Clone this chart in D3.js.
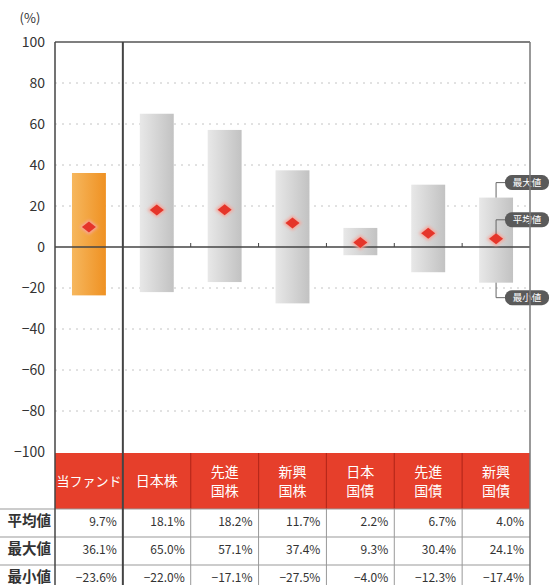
<!DOCTYPE html>
<html>
<head>
<meta charset="utf-8">
<script src="https://cdn.jsdelivr.net/npm/d3@7"></script>
<style>
  body { margin: 0; background: #fff; }
  svg { display: block; font-family: "Noto Sans CJK JP", "Noto Sans", sans-serif; }
</style>
</head>
<body>
<svg id="chart"></svg>
<script>
const WIDTH = 552;
const HEIGHT = 585;

// Data
const categories = ['当ファンド', '日本株', '先進国株', '新興国株', '日本国債', '先進国債', '新興国債'];
const headerLines = [['当ファンド'], ['日本株'], ['先進', '国株'], ['新興', '国株'], ['日本', '国債'], ['先進', '国債'], ['新興', '国債']];
const avgValues = [9.7, 18.1, 18.2, 11.7, 2.2, 6.7, 4.0];
const maxValues = [36.1, 65.0, 57.1, 37.4, 9.3, 30.4, 24.1];
const minValues = [-23.6, -22.0, -17.1, -27.5, -4.0, -12.3, -17.4];
const yTicks = [100, 80, 60, 40, 20, 0, -20, -40, -60, -80, -100];
const rowLabels = ['平均値', '最大値', '最小値'];
const calloutLabels = ['最大値', '平均値', '最小値'];

const plotLeft = 55, plotRight = 530, plotTop = 42, plotBottom = 452;
const headerTop = 453, headerBottom = 509, rowH = 28;

const svg = d3.select('#chart').attr('width', WIDTH).attr('height', HEIGHT);

const defs = svg.append('defs');
const grayGrad = defs.append('linearGradient').attr('id', 'grayGrad');
grayGrad.append('stop').attr('offset', '0%').attr('stop-color', '#e8e8e8');
grayGrad.append('stop').attr('offset', '100%').attr('stop-color', '#c2c2c2');
const orangeGrad = defs.append('linearGradient').attr('id', 'orangeGrad');
orangeGrad.append('stop').attr('offset', '0%').attr('stop-color', '#f6b75e');
orangeGrad.append('stop').attr('offset', '100%').attr('stop-color', '#ef9122');
const glow = defs.append('filter').attr('id', 'glow').attr('x', '-50%').attr('y', '-50%').attr('width', '200%').attr('height', '200%');
glow.append('feGaussianBlur').attr('stdDeviation', 1.2);

const x = d3.scaleBand().domain(categories).range([plotLeft, plotRight]).padding(0);
const y = d3.scaleLinear().domain([-100, 100]).range([plotBottom, plotTop]);
const barW = x.bandwidth() * 0.5;

// Grid lines
svg.append('g')
    .selectAll('line')
    .data(yTicks.filter(t => t !== 0 && Math.abs(t) !== 100))
    .enter().append('line')
        .attr('x1', plotLeft).attr('x2', plotRight)
        .attr('y1', d => y(d)).attr('y2', d => y(d))
        .attr('stroke', '#c4c4c4')
        .attr('stroke-width', 1)
        .attr('stroke-dasharray', '2,5');

// Y axis labels
const yAxis = svg.append('g')
    .attr('transform', `translate(${plotLeft}, 0)`)
    .call(d3.axisLeft(y).tickValues(yTicks).tickSize(0).tickPadding(10).tickFormat(d3.format('d')));
yAxis.select('.domain').remove();
yAxis.selectAll('text')
    .attr('font-size', 14)
    .attr('fill', '#333')
    .attr('font-family', '"Noto Sans CJK JP", sans-serif');

svg.append('text')
    .attr('x', 30).attr('y', 23)
    .attr('text-anchor', 'middle')
    .attr('font-size', 13)
    .attr('fill', '#333')
    .text('(%)');

// Bars
svg.append('g')
    .selectAll('rect')
    .data(categories)
    .enter().append('rect')
        .attr('x', d => x(d) + (x.bandwidth() - barW) / 2)
        .attr('width', barW)
        .attr('y', (d, i) => y(maxValues[i]))
        .attr('height', (d, i) => y(minValues[i]) - y(maxValues[i]))
        .attr('fill', (d, i) => i === 0 ? 'url(#orangeGrad)' : 'url(#grayGrad)');

// Zero line and small ticks
svg.append('line')
    .attr('x1', plotLeft).attr('x2', plotRight)
    .attr('y1', y(0)).attr('y2', y(0))
    .attr('stroke', '#444').attr('stroke-width', 1.3);
svg.append('g')
    .selectAll('line')
    .data(categories.slice(2))
    .enter().append('line')
        .attr('x1', d => x(d)).attr('x2', d => x(d))
        .attr('y1', y(0)).attr('y2', y(0) - 4)
        .attr('stroke', '#444').attr('stroke-width', 1);

// Diamonds (average)
const diamond = 'M0,-5.5 L7,0 L0,5.5 L-7,0 Z';
const dg = svg.append('g');
dg.selectAll('path.glow')
    .data(categories)
    .enter().append('path')
        .attr('class', 'glow')
        .attr('d', diamond)
        .attr('transform', (d, i) => `translate(${x(d) + x.bandwidth() / 2}, ${y(avgValues[i])}) scale(1.35)`)
        .attr('fill', '#f7a59a')
        .attr('filter', 'url(#glow)');
dg.selectAll('path.dot')
    .data(categories)
    .enter().append('path')
        .attr('class', 'dot')
        .attr('d', diamond)
        .attr('transform', (d, i) => `translate(${x(d) + x.bandwidth() / 2}, ${y(avgValues[i])})`)
        .attr('fill', '#e5352a');

// Callouts on the last bar
const last = categories.length - 1;
const cx = x(categories[last]) + x.bandwidth() / 2;
const callouts = [
    { label: calloutLabels[0], from: y(maxValues[last]), to: y(maxValues[last]) - 15 },
    { label: calloutLabels[1], from: y(avgValues[last]) - 5, to: y(avgValues[last]) - 19 },
    { label: calloutLabels[2], from: y(minValues[last]), to: y(minValues[last]) + 15 },
];
const cg = svg.append('g');
cg.selectAll('path')
    .data(callouts)
    .enter().append('path')
        .attr('d', d => `M${cx},${d.from} L${cx},${d.to} L${plotRight + 4},${d.to}`)
        .attr('fill', 'none')
        .attr('stroke', '#666')
        .attr('stroke-width', 1);

// Table: header band
svg.append('rect')
    .attr('x', plotLeft).attr('y', headerTop)
    .attr('width', plotRight - plotLeft).attr('height', headerBottom - headerTop)
    .attr('fill', '#e63f2b');
svg.append('g')
    .selectAll('line')
    .data(categories.slice(2))
    .enter().append('line')
        .attr('x1', d => x(d)).attr('x2', d => x(d))
        .attr('y1', headerTop).attr('y2', headerBottom)
        .attr('stroke', '#b8281a').attr('stroke-width', 1.2);

const hg = svg.append('g');
headerLines.forEach((lines, i) => {
    const t = hg.append('text')
        .attr('x', x(categories[i]) + x.bandwidth() / 2)
        .attr('text-anchor', 'middle')
        .attr('fill', '#fff')
        .attr('font-size', lines[0].length > 4 ? 13 : 14);
    const mid = (headerTop + headerBottom) / 2;
    lines.forEach((ln, j) => {
        t.append('tspan')
            .attr('x', x(categories[i]) + x.bandwidth() / 2)
            .attr('y', mid + 5 + (j - (lines.length - 1) / 2) * 19)
            .text(ln);
    });
});

// Table rows
const rows = [avgValues, maxValues, minValues];
const fmt = v => (v < 0 ? '−' + Math.abs(v).toFixed(1) : v.toFixed(1)) + '%';
const tg = svg.append('g');
rows.forEach((vals, r) => {
    const ry = headerBottom + r * rowH;
    tg.append('line')
        .attr('x1', 0).attr('x2', plotRight)
        .attr('y1', ry + rowH).attr('y2', ry + rowH)
        .attr('stroke', '#999').attr('stroke-width', 1);
    tg.append('text')
        .attr('x', 51).attr('y', ry + 16.5)
        .attr('text-anchor', 'end')
        .attr('font-size', 14.5)
        .attr('font-weight', 'bold')
        .attr('fill', '#333')
        .text(rowLabels[r]);
    vals.forEach((v, i) => {
        tg.append('text')
            .attr('x', x(categories[i]) + x.bandwidth() - 6)
            .attr('y', ry + 16.5)
            .attr('text-anchor', 'end')
            .attr('font-size', 12)
            .attr('fill', '#333')
            .text(fmt(v));
    });
});
tg.append('line')
    .attr('x1', 0).attr('x2', plotRight)
    .attr('y1', headerBottom).attr('y2', headerBottom)
    .attr('stroke', '#999').attr('stroke-width', 1);
tg.selectAll('line.col')
    .data(categories.slice(2))
    .enter().append('line')
        .attr('class', 'col')
        .attr('x1', d => x(d)).attr('x2', d => x(d))
        .attr('y1', headerBottom).attr('y2', HEIGHT)
        .attr('stroke', '#999').attr('stroke-width', 1);

// Frame
svg.append('line')
    .attr('x1', plotLeft).attr('x2', plotRight).attr('y1', plotTop).attr('y2', plotTop)
    .attr('stroke', '#555').attr('stroke-width', 1.5);
svg.append('g')
    .selectAll('line')
    .data([plotLeft, x(categories[1]), plotRight])
    .enter().append('line')
        .attr('x1', d => d).attr('x2', d => d)
        .attr('y1', plotTop).attr('y2', HEIGHT)
        .attr('stroke', (d, i) => i === 2 ? '#777' : '#444')
        .attr('stroke-width', (d, i) => i === 1 ? 2 : 1.5);

// Callout labels (over the right border)
const lg = cg.selectAll('g.lab')
    .data(callouts)
    .enter().append('g')
        .attr('class', 'lab')
        .attr('transform', d => `translate(${plotRight - 25}, ${d.to})`);
lg.append('rect')
    .attr('x', 0).attr('y', -7.5)
    .attr('width', 44).attr('height', 15)
    .attr('rx', 7)
    .attr('fill', '#5a5a5a');
lg.append('text')
    .attr('x', 22).attr('y', 3.5)
    .attr('text-anchor', 'middle')
    .attr('font-size', 9.5)
    .attr('fill', '#fff')
    .text(d => d.label);
</script>
</body>
</html>
